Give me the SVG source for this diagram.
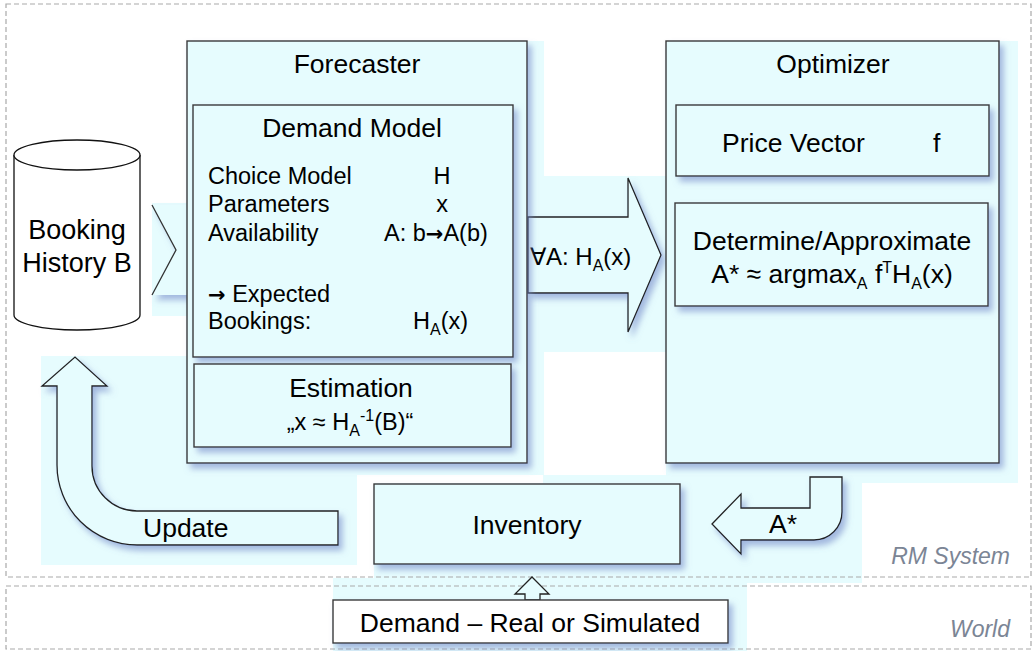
<svg xmlns="http://www.w3.org/2000/svg" width="1034" height="651" viewBox="0 0 1034 651">
<defs>
<filter id="sh" x="-10%" y="-10%" width="130%" height="130%">
<feDropShadow dx="4" dy="5" stdDeviation="3" flood-color="#6a7fc4" flood-opacity="0.55"/>
</filter>
<style>
text{font-family:"Liberation Sans",Arial,sans-serif;fill:#000}
.t{font-size:26.5px}
.b{font-size:23.5px}
.m{text-anchor:middle}
.box{fill:#e6fcfe;stroke:#3a3a3a;stroke-width:1.4}
.bg{fill:#e6fcfe}
.frame{fill:none;stroke:#a9a9a9;stroke-width:1.2;stroke-dasharray:5 3}
.lbl{font-size:23px;font-style:italic;fill:#7b8595;text-anchor:end}
.sub{font-size:16px}
.ar{font-family:"DejaVu Sans",sans-serif;font-weight:bold;font-size:21px}
.arr{fill:#e6fcfe;stroke:#222;stroke-width:1.3}
</style>
</defs>
<rect width="1034" height="651" fill="#fff"/>

<g id="backgrounds">
<rect class="bg" x="41" y="356" width="316" height="209"/>
<rect class="bg" x="152" y="203" width="40" height="113"/>
<rect class="bg" x="187" y="41" width="357" height="434"/>
<rect class="bg" x="527" y="176" width="140" height="176"/>
<rect class="bg" x="666" y="41" width="352" height="442"/>
<rect class="bg" x="543" y="475" width="123" height="10"/>
<rect class="bg" x="374" y="483" width="488" height="100"/>
<rect class="bg" x="333" y="578" width="414" height="73"/>
</g>

<g id="rm-system">
<rect class="frame" x="6" y="4" width="1025" height="573"/>
<text class="lbl" x="1010" y="564">RM System</text>
</g>
<g id="world">
<rect class="frame" x="6" y="586" width="1025" height="63"/>
<text class="lbl" x="1010" y="637">World</text>
</g>

<g id="booking-history">
<path d="M14,155 L14,315 A63,15 0 0 0 140,315 L140,155" fill="#fff" stroke="#111" stroke-width="1.3"/>
<ellipse cx="77" cy="155" rx="63" ry="15" fill="#fff" stroke="#111" stroke-width="1.3"/>
<text class="m" x="77" y="239" style="font-size:27px">Booking</text>
<text class="m" x="77" y="272" style="font-size:27px">History B</text>
</g>

<g id="connectors">
<g id="chevron">
<polygon points="152,205 190,205 190,295 152,295 176,250" fill="#e6fcfe" filter="url(#sh)"/>
<polyline points="152,205 176,250 152,295" fill="none" stroke="#333" stroke-width="1.3"/>
</g>
<g id="forall-arrow" filter="url(#sh)">
<polygon class="arr" points="528,217 628,217 628,178 661,255 628,332 628,293 528,293"/>
</g>
<text x="530" y="265" style="font-size:24px">∀A: H<tspan class="sub" dy="6">A</tspan><tspan dy="-6">(x)</tspan></text>
<g id="update-arrow" filter="url(#sh)">
<path class="arr" d="M57,386 L57,465 A80,80 0 0 0 137,545 L338,545 L338,511 L137,511 A45,45 0 0 1 92,466 L92,386 L107,386 L75,357 L42,386 Z"/>
</g>
<text class="t" x="143" y="537">Update</text>
<g id="astar-arrow" filter="url(#sh)">
<path class="arr" d="M712,524 L741,494 L741,508 L810,508 L810,477 L842,477 L842,512 A28,28 0 0 1 814,540 L741,540 L741,554 Z"/>
</g>
<text class="t" x="769" y="533">A*</text>
<g id="demand-arrow">
<polygon class="arr" points="532,577 549,594 540,594 540,600 525,600 525,594 515,594"/>
</g>
</g>

<g id="forecaster">
<rect class="box" x="187" y="41" width="340" height="422" filter="url(#sh)"/>
<text class="t m" x="357" y="73">Forecaster</text>
</g>
<g id="demand-model">
<rect class="box" x="193" y="105" width="320" height="252" filter="url(#sh)"/>
<text class="t m" x="352" y="137">Demand Model</text>
<text class="b" x="208" y="184">Choice Model</text>
<text class="b" x="208" y="212">Parameters</text>
<text class="b" x="208" y="241">Availability</text>
<text class="b" x="208" y="302"><tspan class="ar">→</tspan> Expected</text>
<text class="b" x="208" y="329">Bookings:</text>
<text class="b m" x="442" y="184">H</text>
<text class="b m" x="442" y="212">x</text>
<text class="b" x="384" y="241">A: b<tspan class="ar">→</tspan>A(b)</text>
<text class="b" x="413" y="329">H<tspan class="sub" dy="6">A</tspan><tspan dy="-6">(x)</tspan></text>
</g>
<g id="estimation">
<rect class="box" x="194" y="364" width="317" height="83" filter="url(#sh)"/>
<text class="t m" x="351" y="397">Estimation</text>
<text class="b m" x="350" y="430">„x ≈ H<tspan class="sub" dy="6">A</tspan><tspan class="sub" dy="-15">-1</tspan><tspan dy="9">(B)“</tspan></text>
</g>

<g id="optimizer">
<rect class="box" x="666" y="41" width="333" height="422" filter="url(#sh)"/>
<text class="t m" x="833" y="73">Optimizer</text>
</g>
<g id="price-vector">
<rect class="box" x="676" y="105" width="313" height="71" filter="url(#sh)"/>
<text class="t" x="722" y="152">Price Vector</text>
<text class="t" x="933" y="152">f</text>
</g>
<g id="determine">
<rect class="box" x="675" y="203" width="313" height="103" filter="url(#sh)"/>
<text class="t m" x="832" y="250">Determine/Approximate</text>
<text class="t m" x="832" y="283">A* ≈ argmax<tspan class="sub" dy="6">A</tspan><tspan dy="-6"> f</tspan><tspan class="sub" dy="-10">T</tspan><tspan dy="10">H</tspan><tspan class="sub" dy="6">A</tspan><tspan dy="-6">(x)</tspan></text>
</g>

<g id="inventory">
<rect class="box" x="374" y="484" width="306" height="80" filter="url(#sh)"/>
<text class="t m" x="527" y="534">Inventory</text>
</g>
<g id="demand">
<rect x="333" y="600" width="395" height="43" fill="#fff" stroke="#3a3a3a" stroke-width="1.4" filter="url(#sh)"/>
<text class="t m" x="530" y="632">Demand – Real or Simulated</text>
</g>
</svg>
